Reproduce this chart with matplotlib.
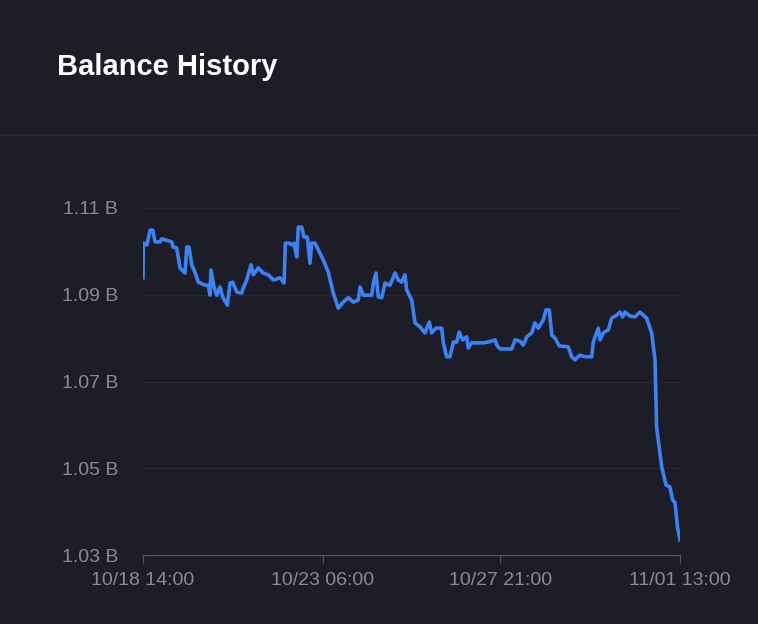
import numpy as np
import matplotlib.pyplot as plt
from datetime import datetime, timedelta

plt.rcParams['font.family'] = ['Liberation Sans', 'DejaVu Sans']

start = datetime(2023, 10, 18, 14, 0)

# hours since 10/18 14:00, balance in billions
hours = [0, 0.2, 2.5, 4.4, 6.1, 7.5, 10.6, 11.7, 17.9, 18.7, 21.0, 23.1, 26.2, 27.3, 28.7,
         30.4, 32.4, 34.5, 38.7, 40.7, 41.8, 42.4, 44.3, 46.0, 48.0, 49.7, 52.6, 54.3, 56.0,
         58.5, 61.6, 62.6, 64.7, 67.4, 68.8, 71.9, 75.0, 78.2, 81.3, 85.5, 88.0, 88.8, 91.3,
         92.8, 94.2, 95.9, 96.9, 99.0, 100.4, 102.5, 104.2, 105.2, 107.3, 110.4, 112.5, 115.6,
         118.7, 121.8, 124.9, 128.1, 131.2, 134.3, 135.4, 137.4, 142.7, 143.7, 145.3, 146.8,
         148.9, 151.0, 154.1, 157.2, 159.3, 161.4, 163.4, 164.5, 167.6, 169.7, 172.8, 175.9,
         178.6, 180.1, 182.8, 186.3, 187.3, 189.4, 191.5, 193.6, 195.7, 197.3, 199.4, 201.9,
         202.9, 205.0, 212.3, 215.4, 219.6, 220.7, 222.7, 230.0, 232.1, 235.2, 237.2, 239.4,
         242.5, 244.5, 246.6, 249.7, 251.4, 253.5, 255.0, 257.0, 259.7, 265.3, 267.4, 269.5,
         272.6, 275.7, 279.9, 280.9, 284.0, 285.1, 287.1, 290.3, 292.4, 295.5, 297.6, 299.2,
         300.7, 303.8, 306.9, 310.0, 314.2, 317.3, 319.4, 320.4, 323.6, 326.3, 328.7, 330.4,
         331.9, 333.4, 335.0]
balance = [1.0939, 1.1019, 1.1015, 1.1049, 1.1049, 1.1022, 1.1022, 1.1029, 1.1022, 1.1010,
           1.1008, 1.0962, 1.0950, 1.1010, 1.1010, 1.0969, 1.0952, 1.0929, 1.0922, 1.0922,
           1.0899, 1.0957, 1.0918, 1.0899, 1.0918, 1.0895, 1.0876, 1.0927, 1.0929, 1.0906,
           1.0904, 1.0916, 1.0934, 1.0969, 1.0946, 1.0962, 1.0950, 1.0946, 1.0934, 1.0939,
           1.0927, 1.1019, 1.1019, 1.1015, 1.1019, 1.0987, 1.1056, 1.1056, 1.1033, 1.1033,
           1.0973, 1.1019, 1.1019, 1.0996, 1.0980, 1.0952, 1.0904, 1.0869, 1.0883, 1.0893,
           1.0883, 1.0888, 1.0918, 1.0899, 1.0899, 1.0927, 1.0950, 1.0895, 1.0893, 1.0927,
           1.0922, 1.0950, 1.0934, 1.0929, 1.0946, 1.0911, 1.0888, 1.0835, 1.0826, 1.0812,
           1.0837, 1.0812, 1.0823, 1.0823, 1.0791, 1.0757, 1.0757, 1.0791, 1.0791, 1.0814,
           1.0796, 1.0803, 1.0777, 1.0789, 1.0789, 1.0791, 1.0796, 1.0784, 1.0775, 1.0775,
           1.0796, 1.0793, 1.0784, 1.0803, 1.0812, 1.0835, 1.0823, 1.0842, 1.0865, 1.0865,
           1.0807, 1.0800, 1.0782, 1.0780, 1.0757, 1.0750, 1.0761, 1.0757, 1.0757, 1.0791,
           1.0823, 1.0796, 1.0812, 1.0819, 1.0846, 1.0853, 1.0860, 1.0849, 1.0860, 1.0851,
           1.0849, 1.0860, 1.0846, 1.0812, 1.0750, 1.0595, 1.0503, 1.0461, 1.0457, 1.0427,
           1.0420, 1.0365, 1.0335]

y_ticks = [1.03, 1.05, 1.07, 1.09, 1.11]
x_tick_hours = [0, 112, 223, 335]

bg = '#1c1d27'
fig = plt.figure(figsize=(7.58, 6.24), dpi=100, facecolor=bg)
fig.text(57 / 758, 1 - 67 / 624, 'Balance History', color='white', fontsize=21,
         fontweight='bold', va='center', ha='left')
fig.add_artist(plt.Line2D([0, 1], [1 - 135 / 624, 1 - 135 / 624], color='#2c2d38', lw=1.2))

ax = fig.add_axes([143 / 758, 1 - 555 / 624, 537 / 758, 347 / 624], facecolor=bg)
times = [start + timedelta(hours=h) for h in hours]
ax.plot(times, balance, color='#3b82f6', lw=2.6, solid_joinstyle='round')

ax.set_ylim(1.03, 1.11)
ax.set_xlim(start, start + timedelta(hours=335))
ax.set_yticks(y_ticks)
ax.set_yticklabels([f'{v:.2f} B' for v in y_ticks])
xt = [start + timedelta(hours=h) for h in x_tick_hours]
ax.set_xticks(xt)
ax.set_xticklabels([t.strftime('%m/%d %H:%M') for t in xt])
ax.grid(axis='y', color='#272833', lw=1)
ax.set_axisbelow(True)
for s in ['top', 'right', 'left']:
    ax.spines[s].set_visible(False)
ax.spines['bottom'].set_color('#55565e')
ax.tick_params(axis='y', length=0, pad=18, colors='#8a8b92', labelsize=14)
ax.tick_params(axis='x', length=6, color='#55565e', colors='#8a8b92', labelsize=14, pad=6)

fig.savefig('out.png', dpi=100, facecolor=bg)
